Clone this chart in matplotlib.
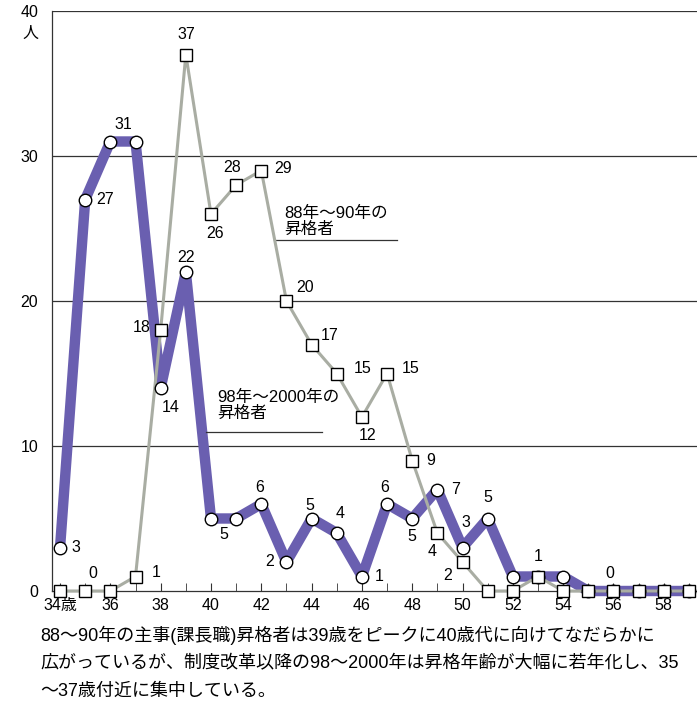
import matplotlib
matplotlib.use("Agg")
import matplotlib.pyplot as plt

plt.rcParams['font.family'] = ['Liberation Sans', 'Noto Sans CJK JP', 'DejaVu Sans']

ages = list(range(34, 60))
# 98年〜2000年の昇格者
recent = [3, 27, 31, 31, 14, 22, 5, 5, 6, 2, 5, 4, 1, 6, 5, 7, 3, 5, 1, 1, 1, 0, 0, 0, 0, 0]
# 88年〜90年の昇格者
earlier = [0, 0, 0, 1, 18, 37, 26, 28, 29, 20, 17, 15, 12, 15, 9, 4, 2, 0, 0, 1, 0, 0, 0, 0, 0, 0]

xtick_values = list(range(34, 60, 2))
xtick_labels = ['34歳'] + [str(v) for v in xtick_values[1:]]
ytick_values = [0, 10, 20, 30, 40]

series_names = ['88年〜90年の\n昇格者', '98年〜2000年の\n昇格者']
caption = ('88〜90年の主事(課長職)昇格者は39歳をピークに40歳代に向けてなだらかに\n'
           '広がっているが、制度改革以降の98〜2000年は昇格年齢が大幅に若年化し、35\n'
           '〜37歳付近に集中している。')

PURPLE = '#6a5fb0'
GREY = '#a9ada3'
FS = 11.5

fig = plt.figure(figsize=(6.97, 7.11), dpi=100)
ax = fig.add_axes([52 / 697, 120 / 711, 1 - 52 / 697, 580 / 711])
ax.set_xlim(33.68, 59.32)
ax.set_ylim(0, 40)

for g in (10, 20, 30, 40):
    ax.axhline(g, color='#333333', lw=0.9, zorder=1)

ax.plot(ages, recent, color=PURPLE, lw=7.5, solid_joinstyle='round', solid_capstyle='butt',
        zorder=2, clip_on=False)
ax.plot(ages, earlier, color=GREY, lw=2.2, solid_joinstyle='round', zorder=3, clip_on=False)
ax.plot(ages, recent, ls='none', marker='o', ms=9, mfc='white', mec='black', mew=1.0,
        zorder=4, clip_on=False)
ax.plot(ages, earlier, ls='none', marker='s', ms=9, mfc='white', mec='black', mew=1.0,
        zorder=5, clip_on=False)

for side in ('top', 'right'):
    ax.spines[side].set_visible(False)
for side in ('left', 'bottom'):
    ax.spines[side].set_color('#333333')
    ax.spines[side].set_linewidth(0.9)

ax.set_xticks(ages, minor=True)
ax.set_xticks(xtick_values)
ax.set_xticklabels(xtick_labels, fontsize=FS)
ax.tick_params(axis='x', which='both', direction='in', length=6, color='#333333', pad=5)
ax.set_yticks(ytick_values)
ax.set_yticklabels(['0', '10', '20', '30', '40'], fontsize=FS)
ax.tick_params(axis='y', length=0, pad=10)
ax.text(-0.034, 0.962, '人', transform=ax.transAxes, fontsize=FS, ha='center', va='center',
        family=['Noto Sans CJK JP'])

# value labels: (x position, index of value, dx px, dy px)
recent_labels = [
    (34, 0, 16, 0), (35, 1, 20, 0), (36.5, 2, 0, 17), (38, 4, 10, -19), (39, 5, 0, 15),
    (40.5, 6, 0, -16), (42, 8, -2, 17), (43, 9, -17, 0), (44, 10, -2, 13), (45, 11, 3, 20),
    (46, 12, 17, 0), (47, 13, -2, 16), (48, 14, 0, -18), (49, 15, 18, 0), (50, 16, 3, 25),
    (51, 17, 0, 21), (53, 19, 0, 20), (56, 22, -4, 18),
]
earlier_labels = [
    (35, 1, 8, 18), (37, 3, 21, 4), (38, 4, -19, 2), (39, 5, 0, 20), (40, 6, 4, -19),
    (41, 7, -4, 18), (42, 8, 22, 2), (43, 9, 19, 13), (44, 10, 18, 9), (45, 11, 26, 5),
    (46, 12, 6, -18), (47, 13, 24, 5), (48, 14, 18, 0), (49, 15, -5, -18), (50, 16, -15, -13),
]
for xpos, i, dx, dy in recent_labels:
    ax.annotate(str(recent[i]), (xpos, recent[i]), xytext=(dx, dy), textcoords='offset pixels',
                ha='center', va='center', fontsize=FS, zorder=6)
for xpos, i, dx, dy in earlier_labels:
    ax.annotate(str(earlier[i]), (xpos, earlier[i]), xytext=(dx, dy), textcoords='offset pixels',
                ha='center', va='center', fontsize=FS, zorder=6)

# series captions with underline
ax.text(42.9, 25.5, series_names[0], fontsize=12, ha='left', va='center', linespacing=1.1,
        family=['Liberation Sans', 'Noto Sans CJK JP'])
ax.plot([42.5, 47.4], [24.2, 24.2], color='#333333', lw=0.9)
ax.text(40.25, 12.8, series_names[1], fontsize=12, ha='left', va='center', linespacing=1.1,
        family=['Liberation Sans', 'Noto Sans CJK JP'])
ax.plot([39.8, 44.4], [11.0, 11.0], color='#333333', lw=0.9)

fig.text(40 / 697, 1 - 626 / 711, caption, fontsize=13.0, ha='left', va='top', linespacing=1.78,
         family=['Liberation Sans', 'Noto Sans CJK JP'])

fig.savefig('out.png', dpi=100)
